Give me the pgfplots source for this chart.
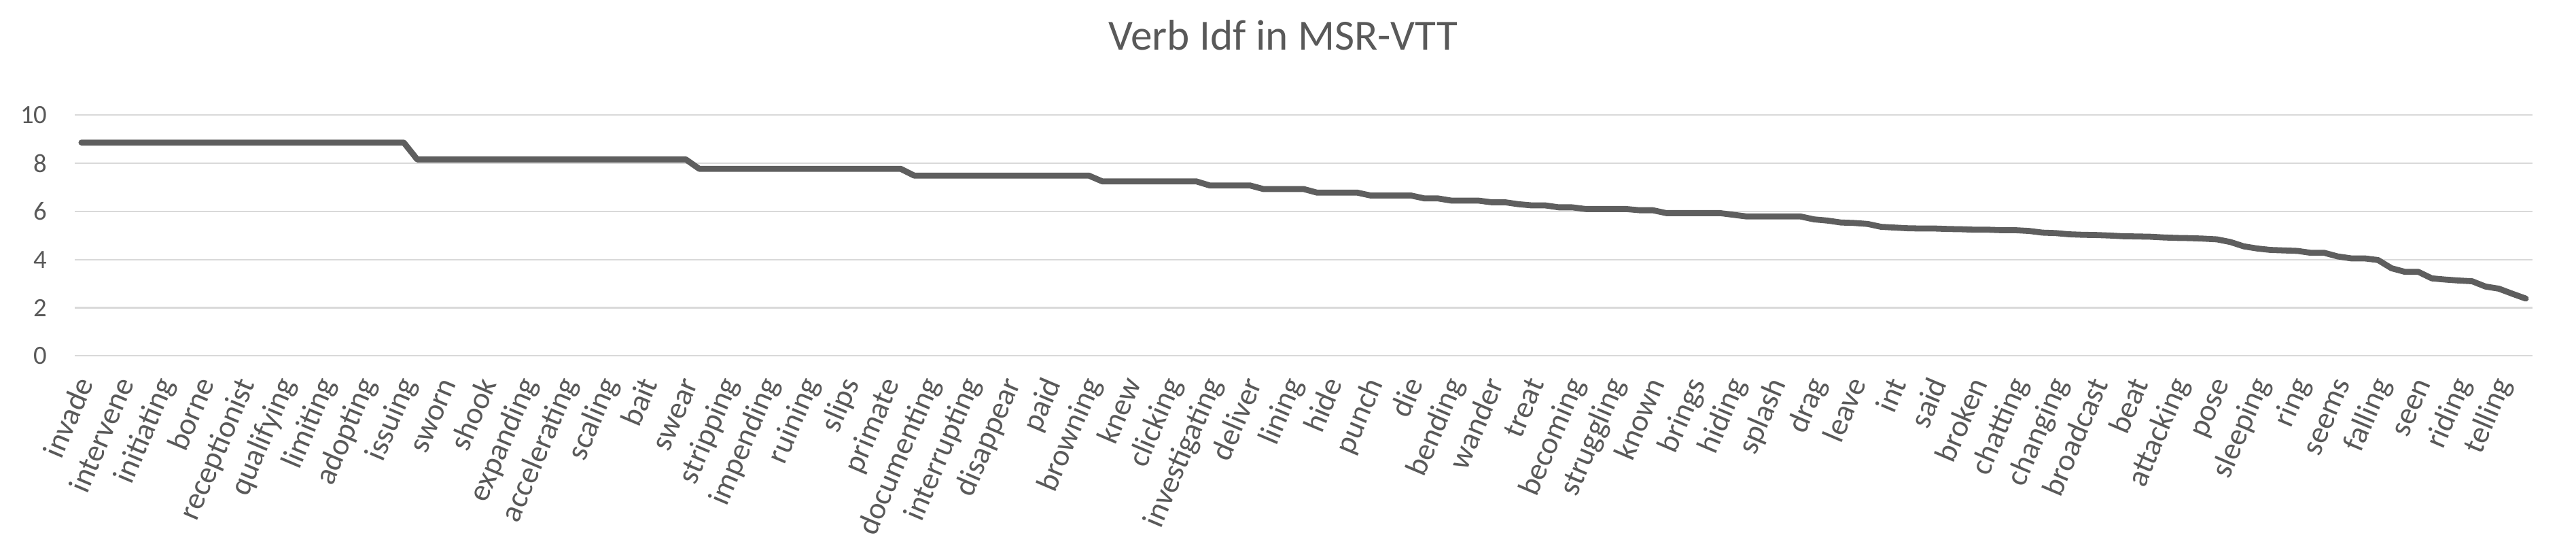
\documentclass[border=0pt]{standalone}
\usepackage{pgfplots}
\pgfplotsset{compat=1.18}
\usepackage{fontspec}
\setmainfont{Carlito}
\definecolor{txt}{HTML}{595959}
\definecolor{ln}{HTML}{5E5E5E}
\definecolor{grd}{HTML}{D9D9D9}
\begin{document}
\begin{tikzpicture}
\useasboundingbox (-1.10cm,-2.737cm) rectangle (36.81cm,5.233cm);
\begin{axis}[
  scale only axis,
  width=36.17cm, height=3.54cm,
  xmin=-0.5, xmax=182.5, ymin=0, ymax=10,
  axis line style={draw=none},
  major tick length=0pt,
  ytick={0,2,4,6,8,10},
  ymajorgrids, grid style={grd, line width=0.65pt},
  xtick={0,3,...,180},
  xticklabels={invade,intervene,initiating,borne,receptionist,qualifying,limiting,adopting,issuing,sworn,shook,expanding,accelerating,scaling,bait,swear,stripping,impending,ruining,slips,primate,documenting,interrupting,disappear,paid,browning,knew,clicking,investigating,deliver,lining,hide,punch,die,bending,wander,treat,becoming,struggling,known,brings,hiding,splash,drag,leave,int,said,broken,chatting,changing,broadcast,beat,attacking,pose,sleeping,ring,seems,falling,seen,riding,telling},
  /pgf/number format/assume math mode=true,
  tick label style={text=txt},
  yticklabel style={font=\fontsize{11}{13}\selectfont, anchor=east, inner sep=0pt, xshift=-0.4cm},
  xticklabel style={font=\fontsize{13}{15}\selectfont, inner sep=0pt, xshift=0.19cm, yshift=-0.40cm, rotate=67, anchor=base east},
  title={Verb Idf in MSR-VTT},
  title style={font=\fontsize{18}{22}\selectfont, text=txt, anchor=base, at={(rel axis cs:0.4917,1.2099)}},
  clip=false,
]
\addplot[ln, line width=2.5pt, line cap=round, line join=round] coordinates {
(0,8.86)(1,8.86)(2,8.86)(3,8.86)(4,8.86)(5,8.86)(6,8.86)(7,8.86)(8,8.86)(9,8.86)
(10,8.86)(11,8.86)(12,8.86)(13,8.86)(14,8.86)(15,8.86)(16,8.86)(17,8.86)(18,8.86)(19,8.86)
(20,8.86)(21,8.86)(22,8.86)(23,8.86)(24,8.86)
(25,8.16)(26,8.16)(27,8.16)(28,8.16)(29,8.16)(30,8.16)(31,8.16)(32,8.16)(33,8.16)(34,8.16)
(35,8.16)(36,8.16)(37,8.16)(38,8.16)(39,8.16)(40,8.16)(41,8.16)(42,8.16)(43,8.16)(44,8.16)(45,8.16)
(46,7.77)(47,7.77)(48,7.77)(49,7.77)(50,7.77)(51,7.77)(52,7.77)(53,7.77)(54,7.77)(55,7.77)
(56,7.77)(57,7.77)(58,7.77)(59,7.77)(60,7.77)(61,7.77)
(62,7.49)(63,7.49)(64,7.49)(65,7.49)(66,7.49)(67,7.49)(68,7.49)(69,7.49)(70,7.49)(71,7.49)
(72,7.49)(73,7.49)(74,7.49)(75,7.49)
(76,7.25)(77,7.25)(78,7.25)(79,7.25)(80,7.25)(81,7.25)(82,7.25)(83,7.25)
(84,7.08)(85,7.08)(86,7.08)(87,7.08)
(88,6.93)(89,6.93)(90,6.93)(91,6.93)
(92,6.78)(93,6.78)(94,6.78)(95,6.78)
(96,6.66)(97,6.66)(98,6.66)(99,6.66)
(100,6.54)(101,6.54)
(102,6.45)(103,6.45)(104,6.45)
(105,6.38)(106,6.38)
(107,6.30)(108,6.25)(109,6.25)
(110,6.17)(111,6.17)
(112,6.10)(113,6.10)(114,6.10)(115,6.10)
(116,6.05)(117,6.05)
(118,5.93)(119,5.93)(120,5.93)(121,5.93)(122,5.93)
(123,5.86)(124,5.79)(125,5.79)(126,5.79)(127,5.79)(128,5.79)
(129,5.67)(130,5.62)(131,5.54)(132,5.52)(133,5.48)(134,5.36)(135,5.33)(136,5.30)(137,5.29)(138,5.29)
(139,5.27)(140,5.26)(141,5.24)(142,5.24)(143,5.22)(144,5.22)(145,5.19)(146,5.12)(147,5.10)(148,5.05)
(149,5.03)(150,5.02)(151,5.00)(152,4.97)(153,4.96)(154,4.95)(155,4.92)(156,4.90)(157,4.89)(158,4.87)
(159,4.84)(160,4.73)(161,4.55)(162,4.46)(163,4.40)(164,4.38)(165,4.36)(166,4.28)(167,4.28)(168,4.13)
(169,4.05)(170,4.05)(171,3.98)(172,3.64)(173,3.49)(174,3.49)(175,3.22)(176,3.17)(177,3.13)(178,3.10)
(179,2.88)(180,2.79)(181,2.58)(182,2.38)
};
\end{axis}
\end{tikzpicture}
\end{document}
